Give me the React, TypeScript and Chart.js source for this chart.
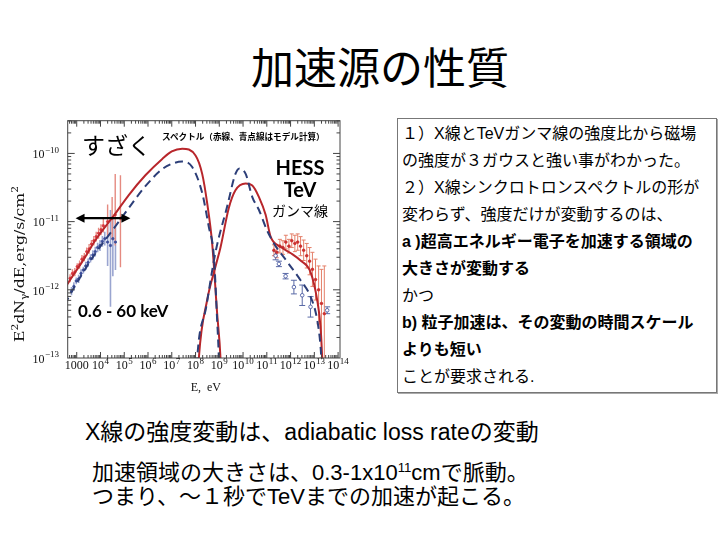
import React, { useEffect, useRef } from "react";
import { Chart, registerables } from "chart.js";

Chart.register(...registerables);

// ---------- axes ----------
const xMinExp = 2.62;
const xMaxExp = 14.08;
const yMinExp = -13;
const yMaxExp = -9.52;
const xTickExps = [3, 4, 5, 6, 7, 8, 9, 10, 11, 12, 13, 14];
const xTickBase = ["1000", "10", "10", "10", "10", "10", "10", "10", "10", "10", "10", "10"];
const xTickSup = ["", "4", "5", "6", "7", "8", "9", "10", "11", "12", "13", "14"];
const yTickExps = [-13, -12, -11, -10];
const yTickBase = ["10", "10", "10", "10"];
const yTickSup = ["−13", "−12", "−11", "−10"];

// ---------- model curves (log10 E [eV], log10 E²dN/dE [erg/s/cm²]) ----------
const redSyncLogE = [2.5, 2.64, 3.3, 3.79, 4.63, 5.19, 5.89, 6.6, 7.0, 7.44, 8.0, 8.28, 8.49, 8.7, 8.91, 9.05, 9.08];
const redSyncLogF = [-11.98, -11.9, -11.55, -11.27, -10.88, -10.61, -10.32, -10.08, -9.97, -9.93, -10.03, -10.3, -10.73, -11.32, -12.35, -13, -13.3];

const blueSyncLogE = [2.5, 2.64, 3.0, 3.72, 4.56, 5.19, 5.89, 6.6, 7.1, 7.44, 7.86, 8.28, 8.56, 8.77, 8.91, 8.98, 9.0];
const blueSyncLogF = [-12.22, -12.12, -11.9, -11.5, -11.1, -10.8, -10.48, -10.23, -10.14, -10.12, -10.2, -10.58, -11.08, -11.5, -12.45, -13, -13.3];

const redICLogE = [8.1, 8.14, 8.49, 8.84, 9.05, 9.4, 9.68, 10.11, 10.39, 10.67, 10.95, 11.16, 11.58, 12.0, 12.42, 12.84, 13.12, 13.26, 13.33, 13.36];
const redICLogF = [-13.3, -13, -12.15, -11.66, -11.38, -10.8, -10.54, -10.44, -10.47, -10.64, -10.9, -11.22, -11.37, -11.46, -11.57, -11.74, -12.15, -12.54, -13, -13.3];

const blueICLogE = [8.03, 8.07, 8.45, 8.84, 9.33, 9.68, 9.85, 10.11, 10.39, 10.67, 11.0, 11.3, 11.86, 12.42, 12.84, 13.12, 13.26, 13.29, 13.31];
const blueICLogF = [-13.3, -13, -12.25, -11.45, -10.78, -10.3, -10.22, -10.3, -10.64, -10.83, -11.12, -11.32, -11.59, -11.86, -12.1, -12.44, -12.83, -13, -13.3];

// ---------- data points ----------
const suzakuRedLogE = [2.72, 2.82, 2.92, 3.02, 3.12, 3.22, 3.32, 3.42, 3.52, 3.62, 3.72, 3.82, 3.92, 4.02, 4.12, 4.3, 4.49, 4.62, 4.84];
const suzakuRedLogF = [-11.83, -11.76, -11.74, -11.66, -11.63, -11.55, -11.52, -11.44, -11.4, -11.33, -11.28, -11.22, -11.17, -11.12, -11.06, -11.0, -10.95, -10.9, -10.95];
const suzakuRedErrLo = [0.06, 0.06, 0.06, 0.05, 0.06, 0.06, 0.06, 0.06, 0.07, 0.06, 0.07, 0.07, 0.08, 0.08, 0.1, 0.2, 0.32, 0.45, 0.72];
const suzakuRedErrHi = [0.06, 0.06, 0.06, 0.05, 0.06, 0.06, 0.06, 0.06, 0.07, 0.06, 0.07, 0.07, 0.08, 0.08, 0.1, 0.25, 0.31, 0.6, 0.63];

const suzakuBlueLogE = [2.78, 2.88, 2.98, 3.08, 3.18, 3.28, 3.38, 3.48, 3.58, 3.68, 3.78, 3.88, 3.98, 4.08, 4.18, 4.3, 4.42, 4.52, 4.63];
const suzakuBlueLogF = [-12.02, -11.95, -11.87, -11.84, -11.76, -11.71, -11.65, -11.6, -11.54, -11.49, -11.44, -11.38, -11.35, -11.29, -11.25, -11.3, -11.35, -11.25, -11.3];
const suzakuBlueErrLo = [0.06, 0.06, 0.05, 0.06, 0.06, 0.05, 0.06, 0.06, 0.06, 0.07, 0.07, 0.07, 0.08, 0.08, 0.1, 0.35, 0.9, 0.55, 0.41];
const suzakuBlueErrHi = [0.06, 0.06, 0.05, 0.06, 0.06, 0.05, 0.06, 0.06, 0.06, 0.07, 0.07, 0.07, 0.08, 0.08, 0.1, 0.25, 0.52, 0.3, 0.22];

const hessRedLogE = [11.3, 11.42, 11.55, 11.68, 11.8, 11.93, 12.05, 12.18, 12.3, 12.42, 12.55, 12.68, 12.8, 12.92, 13.05, 13.18, 13.3, 13.42];
const hessRedLogF = [-11.42, -11.45, -11.36, -11.38, -11.3, -11.36, -11.28, -11.32, -11.3, -11.36, -11.42, -11.5, -11.58, -11.7, -11.85, -12.0, -12.2, -12.35];
const hessRedErrLo = [0.08, 0.08, 0.1, 0.1, 0.1, 0.1, 0.1, 0.12, 0.12, 0.14, 0.15, 0.18, 0.2, 0.25, 0.3, 0.5, 0.8, 0.9];
const hessRedErrHi = [0.08, 0.08, 0.1, 0.1, 0.1, 0.1, 0.1, 0.12, 0.12, 0.14, 0.15, 0.18, 0.2, 0.25, 0.3, 0.35, 0.5, 0.7];
const hessRedErrE = [0.07, 0.06, 0.06, 0.06, 0.06, 0.06, 0.06, 0.06, 0.06, 0.06, 0.06, 0.06, 0.06, 0.06, 0.06, 0.06, 0.06, 0.06];

const hessBlueLogE = [11.37, 11.51, 11.79, 12.14, 12.49, 12.84, 13.54];
const hessBlueLogF = [-11.5, -11.62, -11.8, -11.96, -12.08, -12.25, -12.3];
const hessBlueErr = [0.06, 0.04, 0.04, 0.1, 0.15, 0.15, 0.05];

// annotation arrow (0.6 - 60 keV band), data units
const arrowLogE = [2.95, 5.26];
const arrowLogF = -10.95;

const RED = "#b8262b";
const BLUE = "#2c3e78";
const SERIF = "'Liberation Serif'";

type Group = { logE: number[]; logF: number[]; lo: number[]; hi: number[]; xe?: number[]; color: string; width: number; cap?: number };

const errorGroups: Group[] = [
  { logE: suzakuBlueLogE, logF: suzakuBlueLogF, lo: suzakuBlueErrLo, hi: suzakuBlueErrHi, color: "#9aa5d0", width: 1.6 },
  { logE: suzakuRedLogE, logF: suzakuRedLogF, lo: suzakuRedErrLo, hi: suzakuRedErrHi, color: "#e58a80", width: 1.4 },
  { logE: hessBlueLogE, logF: hessBlueLogF, lo: hessBlueErr, hi: hessBlueErr, color: "#5a6aa6", width: 1, cap: 3 },
  { logE: hessRedLogE, logF: hessRedLogF, lo: hessRedErrLo, hi: hessRedErrHi, xe: hessRedErrE, color: "#e4806a", width: 1, cap: 2 },
];

const toPts = (le: number[], lf: number[]) => le.map((e, i) => ({ x: 10 ** e, y: 10 ** lf[i] }));

// base + superscript label; align: "center" | "right"
const drawSupLabel = (ctx: CanvasRenderingContext2D, base: string, sup: string, x: number, baseline: number, align: string, size: number) => {
  const supSize = size * 0.75;
  ctx.font = `${size}px ${SERIF}`;
  const wb = ctx.measureText(base).width;
  ctx.font = `${supSize}px ${SERIF}`;
  const ws = sup ? ctx.measureText(sup).width + 0.5 : 0;
  const total = wb + ws;
  const x0 = align === "right" ? x - total : x - total / 2;
  ctx.textAlign = "left";
  ctx.textBaseline = "alphabetic";
  ctx.font = `${size}px ${SERIF}`;
  ctx.fillText(base, x0, baseline);
  if (sup) {
    ctx.font = `${supSize}px ${SERIF}`;
    ctx.fillText(sup, x0 + wb + 0.5, baseline - size * 0.45);
  }
};

const drawRichFit = (ctx: CanvasRenderingContext2D, parts: { t: string; s?: number }[], size: number, target: number) => {
  const small = size * 0.68;
  let total = 0;
  const widths = parts.map((p) => {
    ctx.font = `${p.s ? small : size}px 'DejaVu Serif'`;
    const w = ctx.measureText(p.t).width;
    total += w;
    return w;
  });
  ctx.save();
  ctx.scale(target / total, 1);
  let x = -total / 2;
  ctx.textAlign = "left";
  ctx.textBaseline = "middle";
  parts.forEach((p, i) => {
    ctx.font = `${p.s ? small : size}px 'DejaVu Serif'`;
    const dy = p.s === 1 ? -size * 0.42 : p.s === 2 ? size * 0.32 : 0;
    ctx.fillText(p.t, x, dy);
    x += widths[i];
  });
  ctx.restore();
};

const decorPlugin = {
  id: "decor",
  beforeDatasetsDraw(chart: any) {
    const { ctx, chartArea: a, scales } = chart;
    const xs = scales.x;
    const ys = scales.y;
    ctx.save();
    ctx.beginPath();
    ctx.rect(a.left, a.top, a.right - a.left, a.bottom - a.top);
    ctx.clip();
    for (const g of errorGroups) {
      ctx.strokeStyle = g.color;
      ctx.lineWidth = g.width;
      g.logE.forEach((e, i) => {
        const px = xs.getPixelForValue(10 ** e);
        const f = g.logF[i];
        const y1 = ys.getPixelForValue(10 ** (f + g.hi[i]));
        const y2 = ys.getPixelForValue(10 ** (f - g.lo[i]));
        ctx.beginPath();
        ctx.moveTo(px, y1);
        ctx.lineTo(px, y2);
        if (g.cap) {
          ctx.moveTo(px - g.cap, y1);
          ctx.lineTo(px + g.cap, y1);
          ctx.moveTo(px - g.cap, y2);
          ctx.lineTo(px + g.cap, y2);
        }
        if (g.xe) {
          const py = ys.getPixelForValue(10 ** f);
          ctx.moveTo(xs.getPixelForValue(10 ** (e - g.xe[i])), py);
          ctx.lineTo(xs.getPixelForValue(10 ** (e + g.xe[i])), py);
        }
        ctx.stroke();
      });
    }
    ctx.restore();
  },
  afterDatasetsDraw(chart: any) {
    const { ctx, chartArea: a, scales } = chart;
    const xs = scales.x;
    const ys = scales.y;
    ctx.save();
    ctx.strokeStyle = "#444";
    ctx.lineWidth = 1;
    ctx.strokeRect(a.left, a.top, a.right - a.left, a.bottom - a.top);
    ctx.beginPath();
    for (let d = 2; d <= 14; d++) {
      for (let m = 1; m < 10; m++) {
        const v = m * 10 ** d;
        const px = xs.getPixelForValue(v);
        if (px <= a.left || px >= a.right) continue;
        const len = m === 1 ? 6 : 3;
        ctx.moveTo(px, a.bottom);
        ctx.lineTo(px, a.bottom - len);
        ctx.moveTo(px, a.top);
        ctx.lineTo(px, a.top + len);
      }
    }
    for (let d = -14; d <= -9; d++) {
      for (let m = 1; m < 10; m++) {
        const v = m * 10 ** d;
        const py = ys.getPixelForValue(v);
        if (py <= a.top || py >= a.bottom) continue;
        const len = m === 1 ? 7 : 3.5;
        ctx.moveTo(a.left, py);
        ctx.lineTo(a.left + len, py);
        ctx.moveTo(a.right, py);
        ctx.lineTo(a.right - len, py);
      }
    }
    ctx.stroke();

    // tick labels
    ctx.fillStyle = "#111";
    xTickExps.forEach((e, i) => {
      const px = xs.getPixelForValue(10 ** e);
      drawSupLabel(ctx, xTickBase[i], xTickSup[i], px, a.bottom + 11, "center", 12);
    });
    yTickExps.forEach((e, i) => {
      const py = ys.getPixelForValue(10 ** e);
      drawSupLabel(ctx, yTickBase[i], yTickSup[i], 59, py + 4.8, "right", 12);
    });

    // double arrow
    const ax1 = xs.getPixelForValue(10 ** arrowLogE[0]);
    const ax2 = xs.getPixelForValue(10 ** arrowLogE[1]);
    const ay = ys.getPixelForValue(10 ** arrowLogF);
    ctx.strokeStyle = "#000";
    ctx.fillStyle = "#000";
    ctx.lineWidth = 2.2;
    ctx.beginPath();
    ctx.moveTo(ax1 + 6, ay);
    ctx.lineTo(ax2 - 6, ay);
    ctx.stroke();
    ctx.beginPath();
    ctx.moveTo(ax1, ay);
    ctx.lineTo(ax1 + 9, ay - 4.5);
    ctx.lineTo(ax1 + 9, ay + 4.5);
    ctx.closePath();
    ctx.moveTo(ax2, ay);
    ctx.lineTo(ax2 - 9, ay - 4.5);
    ctx.lineTo(ax2 - 9, ay + 4.5);
    ctx.closePath();
    ctx.fill();

    // axis titles
    ctx.fillStyle = "#111";
    ctx.textBaseline = "alphabetic";
    ctx.textAlign = "center";
    ctx.font = `12px ${SERIF}`;
    ctx.fillText("E,  eV", (a.left + a.right) / 2 + 2, 291);
    ctx.save();
    ctx.translate(21, 164);
    ctx.rotate(-Math.PI / 2);
    drawRichFit(ctx, [{ t: "E" }, { t: "2", s: 1 }, { t: "dN" }, { t: "γ", s: 2 }, { t: "/dE,erg/s/cm" }, { t: "2", s: 1 }], 12.5, 156);
    ctx.restore();
    ctx.restore();
  },
};

const T = ({ x, y, size, children, anchor = "left", style = {} }: any) => (
  <div
    style={{
      position: "absolute",
      left: x,
      top: y - size * 0.6,
      fontSize: size,
      lineHeight: `${size * 1.2}px`,
      whiteSpace: "nowrap",
      transform: anchor === "center" ? "translateX(-50%)" : undefined,
      ...style,
    }}
  >
    {children}
  </div>
);

const JP = "'Liberation Sans', 'Noto Sans CJK JP', sans-serif";
const CJK = "'Noto Sans CJK JP', sans-serif";
const GILL = "Lato, 'Open Sans', sans-serif";

const boxLines: { t: string; b?: boolean }[] = [
  { t: "１）X線とTeVガンマ線の強度比から磁場" },
  { t: "の強度が３ガウスと強い事がわかった。" },
  { t: "２）X線シンクロトロンスペクトルの形が" },
  { t: "変わらず、強度だけが変動するのは、" },
  { t: "a )超高エネルギー電子を加速する領域の", b: true },
  { t: "大きさが変動する", b: true },
  { t: "かつ" },
  { t: "b) 粒子加速は、その変動の時間スケール", b: true },
  { t: "よりも短い", b: true },
  { t: "ことが要求される." },
];

export default function App() {
  const ref = useRef<HTMLCanvasElement>(null);
  useEffect(() => {
    if (!ref.current) return;
    const lineDs = (le: number[], lf: number[], color: string, dash: number[]) => ({
      type: "line",
      data: toPts(le, lf),
      borderColor: color,
      borderWidth: 2,
      borderDash: dash,
      pointRadius: 0,
      cubicInterpolationMode: "monotone",
      fill: false,
      clip: 0,
      order: 0,
    });
    const ptDs = (le: number[], lf: number[], color: string, r: number, fillC: string) => ({
      type: "line",
      data: toPts(le, lf),
      showLine: false,
      pointRadius: r,
      pointBackgroundColor: fillC,
      pointBorderColor: color,
      pointBorderWidth: 0.8,
      clip: 0,
      order: 1,
    });
    const chart = new Chart(ref.current, {
      type: "line",
      data: {
        datasets: [
          ptDs(suzakuBlueLogE, suzakuBlueLogF, "#3b4d9a", 1.2, "#3b4d9a"),
          ptDs(suzakuRedLogE, suzakuRedLogF, "#d9363e", 1.2, "#d9363e"),
          ptDs(hessBlueLogE, hessBlueLogF, "#3b4d9a", 1.8, "#ffffff"),
          ptDs(hessRedLogE, hessRedLogF, "#cc2f2f", 1.3, "#cc2f2f"),
          lineDs(blueSyncLogE, blueSyncLogF, BLUE, [8, 5]),
          lineDs(blueICLogE, blueICLogF, BLUE, [8, 5]),
          lineDs(redSyncLogE, redSyncLogF, RED, []),
          lineDs(redICLogE, redICLogF, RED, []),
        ] as any,
      },
      options: {
        animation: false,
        responsive: false,
        maintainAspectRatio: false,
        layout: { padding: { top: 20.7, right: 40, bottom: 0, left: 0 } },
        plugins: { legend: { display: false }, tooltip: { enabled: false } },
        scales: {
          x: {
            type: "logarithmic",
            min: 10 ** xMinExp,
            max: 10 ** xMaxExp,
            grid: { display: false },
            border: { display: false },
            afterBuildTicks: (s: any) => {
              s.ticks = xTickExps.map((e) => ({ value: 10 ** e }));
            },
            afterFit: (s: any) => {
              s.height = 42;
            },
            ticks: { display: false },
          },
          y: {
            type: "logarithmic",
            min: 10 ** yMinExp,
            max: 10 ** yMaxExp,
            grid: { display: false },
            border: { display: false },
            afterBuildTicks: (s: any) => {
              s.ticks = yTickExps.map((e) => ({ value: 10 ** e }));
            },
            afterFit: (s: any) => {
              s.width = 67.7;
            },
            ticks: { display: false },
          },
        },
      } as any,
      plugins: [decorPlugin],
    });
    return () => chart.destroy();
  }, []);

  return (
    <div style={{ position: "absolute", left: 0, top: 0, width: 720, height: 540, background: "#fff", color: "#000", fontFamily: JP, overflow: "hidden" }}>
      <T x={380} y={66} size={43} anchor="center" style={{ fontFamily: CJK }}>
        加速源の性質
      </T>

      <canvas ref={ref} width={380} height={300} style={{ position: "absolute", left: 0, top: 100, width: 380, height: 300 }} />

      <T x={82} y={145} size={23} style={{ fontFamily: CJK }}>すざく</T>
      <T x={162} y={136.5} size={8.6} style={{ fontFamily: CJK, fontWeight: 700 }}>
        スペクトル（赤線、青点線はモデル計算）
      </T>
      <T x={300} y={167} size={20} anchor="center" style={{ fontFamily: GILL, fontWeight: 700 }}>HESS</T>
      <T x={300} y={189} size={20} anchor="center" style={{ fontFamily: GILL, fontWeight: 700 }}>TeV</T>
      <T x={300} y={210} size={14} anchor="center" style={{ fontFamily: CJK }}>ガンマ線</T>
      <T x={78} y={311} size={17} style={{ fontFamily: GILL, fontWeight: 700 }}>0.6 - 60 keV</T>

      <div
        style={{
          position: "absolute",
          left: 397,
          top: 118,
          width: 314,
          height: 273,
          border: "1px solid #777",
          boxShadow: "1px 1px 0 #aaa",
          padding: "0 0 0 4px",
          boxSizing: "content-box",
          fontFamily: JP,
          fontSize: 16,
        }}
      >
        {boxLines.map((l, i) => (
          <div key={i} style={{ position: "absolute", left: 4, top: 1 + i * 27, height: 27, lineHeight: "27px", whiteSpace: "nowrap", fontWeight: l.b ? 700 : 400 }}>
            {l.t}
          </div>
        ))}
      </div>

      <T x={85} y={433} size={23}>X線の強度変動は、adiabatic loss rateの変動</T>
      <T x={92} y={473} size={22}>
        加速領域の大きさは、0.3-1x10<sup style={{ fontSize: "0.6em", verticalAlign: "0.6em", lineHeight: 0 }}>11</sup>cmで脈動。
      </T>
      <T x={92} y={497} size={22}>つまり、～１秒でTeVまでの加速が起こる。</T>
    </div>
  );
}
